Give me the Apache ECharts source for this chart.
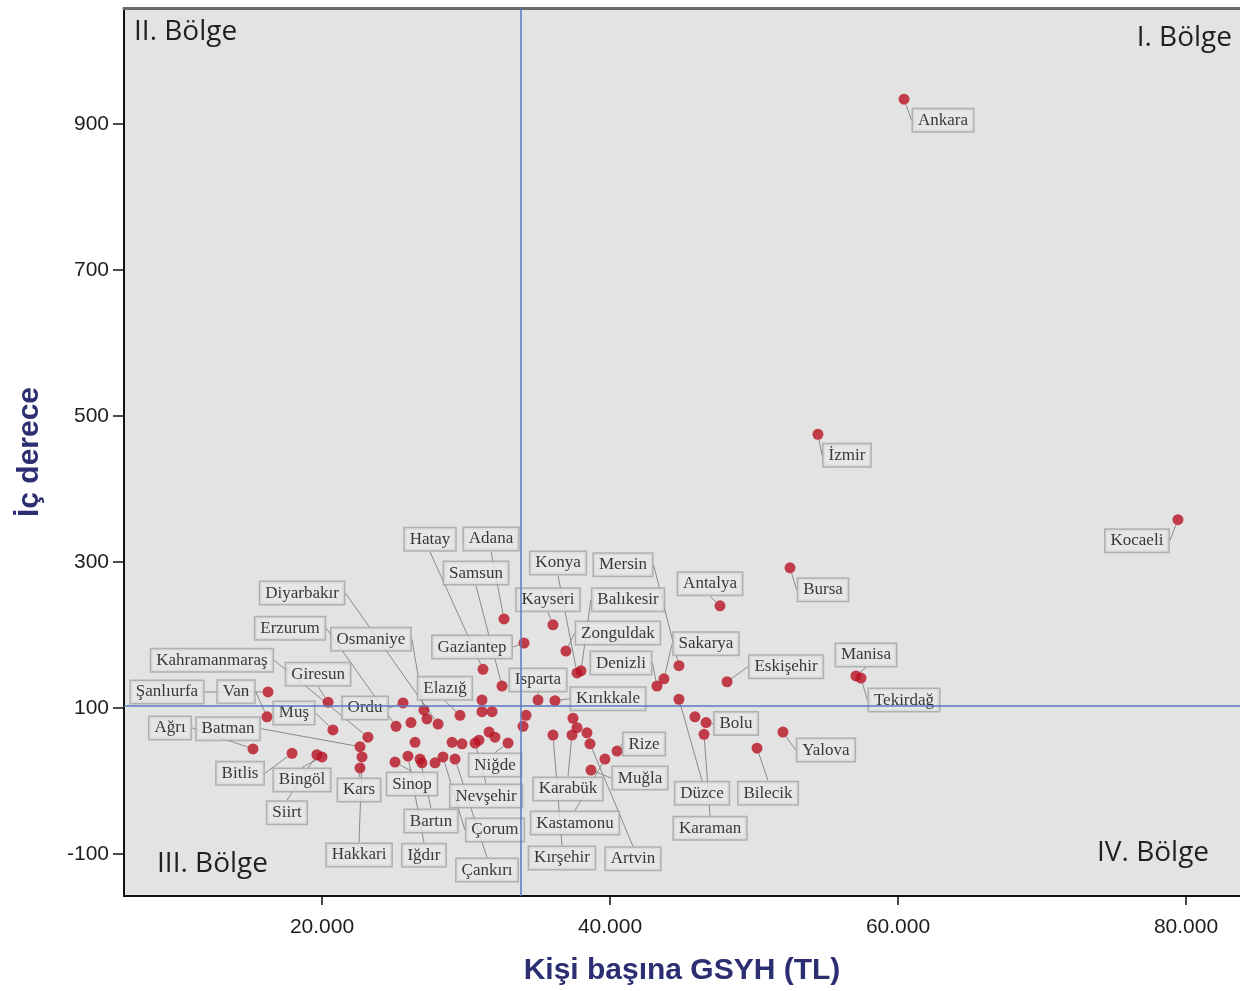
<!DOCTYPE html>
<html>
<head>
<meta charset="utf-8">
<title>İç derece - Kişi başına GSYH</title>
<script src="https://cdn.jsdelivr.net/npm/echarts@6/dist/echarts.min.js"></script>
<style>
    html, body { margin: 0; padding: 0; background: #fff; }
    #chart { width: 1240px; height: 991px; }
</style>
</head>
<body>
<div id="chart"></div>
<script>
    // etiketli iller
    var provinces = ['Ankara', 'İzmir', 'Kocaeli', 'Bursa', 'Antalya', 'Manisa', 'Tekirdağ', 'Eskişehir',
        'Mersin', 'Sakarya', 'Denizli', 'Düzce', 'Bolu', 'Karaman', 'Yalova', 'Bilecik',
        'Kayseri', 'Zonguldak', 'Konya', 'Balıkesir', 'Isparta', 'Kırıkkale', 'Karabük', 'Artvin',
        'Kırşehir', 'Rize', 'Kastamonu', 'Muğla', 'Adana', 'Gaziantep', 'Hatay', 'Samsun',
        'Niğde', 'Nevşehir', 'Elazığ', 'Osmaniye', 'Diyarbakır', 'Erzurum', 'Ordu', 'Iğdır',
        'Bartın', 'Çorum', 'Çankırı', 'Sinop', 'Kahramanmaraş', 'Batman', 'Hakkari', 'Kars',
        'Giresun', 'Muş', 'Siirt', 'Bingöl', 'Bitlis', 'Ağrı', 'Şanlıurfa', 'Van'];
    var gdp = [60420, 54440, 79440, 52500, 47640, 57080, 57430, 48130,
        44790, 43750, 43260, 44790, 46670, 46530, 52010, 50210,
        36040, 36940, 37710, 37990, 35000, 36180, 37360, 38610,
        36040, 40490, 39650, 38680, 32640, 34030, 31180, 32500,
        32920, 30630, 29580, 27080, 28060, 25140, 25630, 25970,
        26810, 28400, 29240, 25070, 23190, 22640, 22780, 22640,
        20420, 20760, 19650, 20000, 17920, 15210, 16250, 16180];
    var degree = [934, 475, 358, 292, 240, 144, 141, 136,
        158, 140, 130, 112, 80, 64, 67, 45,
        214, 178, 148, 151, 111, 110, 63, 51,
        63, 41, 30, 15, 222, 189, 153, 130,
        52, 52, 90, 97, 78, 75, 107, 34,
        30, 33, 30, 26, 60, 47, 33, 18,
        108, 70, 36, 33, 38, 44, 122, 88];

    // etiketsiz iller
    var otherGdp = [45900, 37430, 37710, 38400, 34170, 33960, 31110, 31110, 31810, 31600,
        32010, 29030, 29720, 30900, 27290, 26180, 26460, 26940, 27850];
    var otherDegree = [88, 86, 73, 66, 90, 75, 111, 95, 95, 67,
        60, 53, 51, 56, 85, 80, 53, 25, 25];

    // bölge ayrım çizgileri
    var gdpSplit = 33820;
    var degreeSplit = 103;

    var xTicks = [20000, 40000, 60000, 80000];
    var yTicks = [-100, 100, 300, 500, 700, 900];

    // etiket kutusunun noktaya göre kayması (px)
    var labelOffset = {
        'Ankara': [39, 21], 'İzmir': [29, 21], 'Kocaeli': [-41, 21], 'Bursa': [33, 22],
        'Antalya': [-10, -22], 'Manisa': [10, -21], 'Tekirdağ': [43, 22], 'Eskişehir': [59, -15],
        'Mersin': [-56, -101], 'Sakarya': [42, -35], 'Denizli': [-36, -23], 'Düzce': [23, 94],
        'Bolu': [30, 1], 'Karaman': [6, 94], 'Yalova': [43, 18], 'Bilecik': [11, 45],
        'Kayseri': [-5, -25], 'Zonguldak': [52, -18], 'Konya': [-19, -110], 'Balıkesir': [47, -71],
        'Isparta': [0, -20], 'Kırıkkale': [53, -2], 'Karabük': [-4, 54], 'Artvin': [43, 115],
        'Kırşehir': [9, 123], 'Rize': [27, -7], 'Kastamonu': [-30, 64], 'Muğla': [49, 8],
        'Adana': [-13, -80], 'Gaziantep': [-52, 4], 'Hatay': [-53, -130], 'Samsun': [-26, -113],
        'Niğde': [-13, 22], 'Nevşehir': [11, 53], 'Elazığ': [-15, -27], 'Osmaniye': [-53, -71],
        'Diyarbakır': [-136, -131], 'Erzurum': [-106, -98], 'Ordu': [-38, 5], 'Iğdır': [16, 99],
        'Bartın': [11, 62], 'Çorum': [52, 73], 'Çankırı': [32, 111], 'Sinop': [17, 22],
        'Kahramanmaraş': [-156, -77], 'Batman': [-132, -18], 'Hakkari': [-3, 98], 'Kars': [-1, 22],
        'Giresun': [-10, -28], 'Muş': [-39, -17], 'Siirt': [-30, 58], 'Bingöl': [-20, 23],
        'Bitlis': [-52, 20], 'Ağrı': [-83, -21], 'Şanlıurfa': [-101, 0], 'Van': [-31, -25]
    };

    var chart = echarts.init(document.getElementById('chart'));

    var tickFont = {
        fontFamily: 'Liberation Sans',
        fontSize: 21,
        color: '#1e1e1e'
    };
    var titleFont = { fontFamily: 'Liberation Sans', fontWeight: 'bold', fontSize: 30, color: '#2c2e72' };
    var quadrantFont = {
        fontFamily: 'Open Sans',
        fontSize: 28,
        fill: '#231f20'
    };

    chart.setOption({
        backgroundColor: '#fff',
        animation: false,
        grid: {
            left: 124,
            top: 8,
            right: 0,
            bottom: 95,
            show: true,
            backgroundColor: '#e3e3e3',
            borderWidth: 0
        },
        xAxis: [{
            type: 'value',
            min: 6250,
            max: 83750,
            splitLine: { show: false },
            axisLine: { show: true, onZero: false, lineStyle: { color: '#111', width: 2 } },
            axisTick: { show: true, customValues: xTicks, length: 9, lineStyle: { color: '#111', width: 1.5 } },
            axisLabel: {
                customValues: xTicks,
                margin: 21,
                formatter: function (v) { return (v / 1000).toFixed(3); },
                fontFamily: tickFont.fontFamily,
                fontSize: tickFont.fontSize,
                color: tickFont.color
            },
            name: 'Kişi başına GSYH (TL)',
            nameLocation: 'middle',
            nameGap: 60,
            nameTextStyle: titleFont
        }, {
            type: 'value',
            position: 'top',
            min: 6250,
            max: 83750,
            splitLine: { show: false },
            axisLine: { show: true, onZero: false, lineStyle: { color: '#6a6a6a', width: 3 } },
            axisTick: { show: false },
            axisLabel: { show: false }
        }],
        yAxis: {
            type: 'value',
            min: -157.5,
            max: 1058.9,
            splitLine: { show: false },
            axisLine: { show: true, onZero: false, lineStyle: { color: '#111', width: 2 } },
            axisTick: { show: true, customValues: yTicks, length: 11, lineStyle: { color: '#111', width: 1.5 } },
            axisLabel: {
                customValues: yTicks,
                margin: 15,
                fontFamily: tickFont.fontFamily,
                fontSize: tickFont.fontSize,
                color: tickFont.color
            },
            name: 'İç derece',
            nameLocation: 'middle',
            nameRotate: 90,
            nameGap: 79,
            nameTextStyle: titleFont
        },
        series: [{
            type: 'scatter',
            symbolSize: 11,
            itemStyle: { color: '#b81222' },
            data: provinces.map(function (p, i) {
                return { name: p, value: [gdp[i], degree[i]] };
            }),
            label: {
                show: true,
                position: 'inside',
                formatter: '{b}',
                fontFamily: 'Liberation Serif',
                fontSize: 17,
                color: '#0a0a0a',
                backgroundColor: '#e6e6e6',
                borderColor: '#a2a2a2',
                borderWidth: 1.5,
                padding: [3, 5, 2, 5]
            },
            labelLine: {
                show: true,
                lineStyle: { color: '#8a8a8a', width: 1 }
            },
            labelLayout: function (params) {
                var o = labelOffset[provinces[params.dataIndex]];
                return o ? { dx: o[0], dy: o[1] } : {};
            },
            markLine: {
                silent: true,
                symbol: 'none',
                label: { show: false },
                lineStyle: { color: '#5a78c0', width: 1.5, type: 'solid' },
                data: [{ xAxis: gdpSplit }, { yAxis: degreeSplit }]
            },
            z: 3
        }, {
            type: 'scatter',
            symbolSize: 11,
            itemStyle: { color: '#b81222' },
            data: otherGdp.map(function (g, i) { return [g, otherDegree[i]]; }),
            z: 3
        }],
        graphic: [
            { type: 'text', left: 134, top: 18, style: Object.assign({ text: 'II. Bölge' }, quadrantFont) },
            { type: 'text', right: 8, top: 24, style: Object.assign({ text: 'I. Bölge' }, quadrantFont) },
            { type: 'text', left: 157, top: 850, style: Object.assign({ text: 'III. Bölge' }, quadrantFont) },
            { type: 'text', left: 1097, top: 839, style: Object.assign({ text: 'IV. Bölge' }, quadrantFont) }
        ]
    });
</script>
</body>
</html>
